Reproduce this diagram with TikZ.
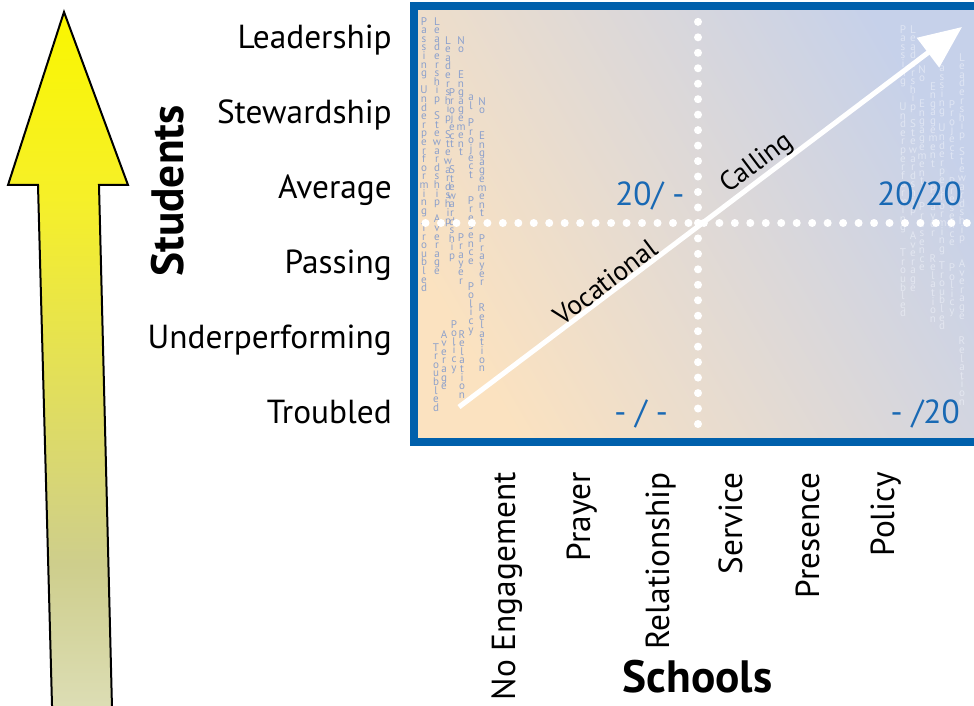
\documentclass[tikz,border=0pt]{standalone}
\usepackage{fontspec}
\setmainfont{PT Sans}
\usetikzlibrary{arrows.meta}
\definecolor{boxblue}{RGB}{0,96,172}
\definecolor{qblue}{RGB}{25,105,180}
\definecolor{peach}{RGB}{251,226,192}
\definecolor{midbg}{RGB}{234,226,218}
\definecolor{bluegrey}{RGB}{198,209,234}
\definecolor{ytop}{RGB}{250,246,0}
\definecolor{yhead}{RGB}{246,240,40}
\definecolor{ylow}{RGB}{206,206,140}
\definecolor{ybot}{RGB}{220,221,180}
\definecolor{tinyL}{RGB}{115,145,205}
\definecolor{tinyR}{RGB}{240,243,250}
\pgfdeclareverticalshading{yarrow}{100bp}{color(0bp)=(ybot); color(26bp)=(ybot); color(36bp)=(ylow); color(62bp)=(yhead); color(75bp)=(ytop); color(100bp)=(ytop)}
\makeatletter
\newcommand\vcol[1]{\vbox{\baselineskip=6.45pt\lineskiplimit=-50pt\lineskip=0pt\relax\vcol@a#1\relax}}
\def\vcol@a#1{\ifx\relax#1\else\hbox to 0pt{\hss#1\hss}\expandafter\vcol@a\fi}
\makeatother
\newcommand\labf{\fontsize{25pt}{30pt}\selectfont}
\newcommand\arrf{\fontsize{20.5pt}{24pt}\selectfont}
\newcommand\bigf{\fontsize{34pt}{40pt}\selectfont\bfseries}
\newcommand\tinyf{\fontsize{8.3pt}{6.45pt}\selectfont}
\tikzset{
  ylab/.style={anchor=base east, inner sep=0pt, font=\labf},
  xlab/.style={anchor=base east, rotate=90, inner sep=0pt, font=\labf},
  qlab/.style={inner sep=0pt, font=\labf, text=qblue},
  tinyl/.style={anchor=north, inner sep=0pt, font=\tinyf, text=tinyL, text opacity=0.8},
  tinyr/.style={anchor=north, inner sep=0pt, font=\tinyf, text=tinyR, text opacity=0.6},
  dotline/.style={white, line width=6pt, line cap=round, dash pattern=on 0pt off 11.6pt},
  arrlab/.style={sloped, above=1pt, inner sep=0pt, font=\arrf},
}
\begin{document}
\begin{tikzpicture}[x=0.75pt,y=-0.75pt]
\useasboundingbox (0,0) rectangle (974,706);
% yellow arrow
\shadedraw[shading=yarrow, draw=black, line width=1.5pt, line join=miter]
  (64,12) -- (128,185) -- (99,185) -- (112.3,720) -- (52.4,720) -- (38,185) -- (8,185) -- cycle;
% box
\begin{scope}
\clip (414,6) rectangle (974,441.5);
\shade[left color=peach, middle color=midbg, right color=bluegrey, shading angle=120] (410,2) rectangle (980,446);
% faint text columns, left
\node[tinyl] (l1) at (424,17) {\vcol{Passing~Underperforming~Troubled}};
\node[tinyl] (l2) at (437,17) {\vcol{Leadership~Stewardship~Average}};
\node[tinyl] (l3) at (448,36) {\vcol{Leadership~Stewardship}};
\node[tinyl] (l4) at (436,343) {\vcol{Troubled}};
\node[tinyl] (l5) at (444,330) {\vcol{Average}};
\node[tinyl] (l6) at (452,88) {\vcol{Project~~Stewardship}};
\node[tinyl] (l7) at (461,36) {\vcol{No~~Engagement}};
\node[tinyl] (l8) at (461,233) {\vcol{Prayer}};
\node[tinyl] (l9) at (462,330) {\vcol{Relation}};
\node[tinyl] (l10) at (454,320) {\vcol{Policy}};
\node[tinyl] (l11) at (471,95) {\vcol{al~Project~~Presence~~Policy}};
\node[tinyl] (l12) at (482,97) {\vcol{No~~Engagement~~Prayer~~Relation}};
% faint text columns, right
\node[tinyr] (r1) at (903,25) {\vcol{Passing~~Underperforming~~Troubled}};
\node[tinyr] (r2) at (913,25) {\vcol{Leadership~Stewardship~~Average}};
\node[tinyr] (r3) at (922,65) {\vcol{No~~Engagement~~Presence}};
\node[tinyr] (r4) at (933,82) {\vcol{Engagement~~Prayer~~Relation}};
\node[tinyr] (r5) at (942,55) {\vcol{Passing~Underperforming~Troubled}};
\node[tinyr] (r6) at (952,100) {\vcol{Project~~Presence~~Policy}};
\node[tinyr] (r7) at (962,53) {\vcol{Leadership~Stewardship~~Average~~Relation}};
\end{scope}
\draw[boxblue, line width=6pt] (414,6) rectangle (1000,441.5);
% dotted axes
\coordinate (hs) at (425.5,223);
\coordinate (he) at (968.5,223);
\coordinate (vs) at (698,17);
\coordinate (ve) at (698,424);
\draw[dotline] (hs) -- (he);
\draw[dotline] (ve) -- (vs);
% white arrow
\coordinate (as) at (459,407);
\coordinate (ae) at (962,27);
\draw[white, line width=3.75pt, -{Triangle[length=32pt,width=27pt]}] (as) -- (ae);
\path (as) -- (ae)
  node[arrlab, pos=0.305] (voc) {Vocational}
  node[arrlab, pos=0.61] (cal) {Calling};
% quadrant labels
\node[qlab, anchor=base west] (q1) at (615,205) {20/ -};
\node[qlab, anchor=base east] (q2) at (962,205) {20/20};
\node[qlab, anchor=base west] (q3) at (614,423) {- / -};
\node[qlab, anchor=base east] (q4) at (960,423) {- /20};
% student levels
\node[ylab] (lead) at (392,48.3) {Leadership};
\node[ylab] (stew) at (392,123.3) {Stewardship};
\node[ylab] (aver) at (392,198.3) {Average};
\node[ylab] (pass) at (392,273.3) {Passing};
\node[ylab] (under) at (392,348.3) {Underperforming};
\node[ylab] (troub) at (392,423.3) {Troubled};
% school levels
\node[xlab] (noeng) at (515,472) {No Engagement};
\node[xlab] (pray) at (590,472) {Prayer};
\node[xlab] (rel) at (669,472) {Relationship};
\node[xlab] (serv) at (742,472) {Service};
\node[xlab] (pres) at (819,472) {Presence};
\node[xlab] (pol) at (894,472) {Policy};
% axis titles
\node[anchor=base, rotate=90, inner sep=0pt, font=\bigf] (stud) at (183,191) {Students};
\node[anchor=base, inner sep=0pt, font=\bigf] (sch) at (697.5,692) {Schools};
\end{tikzpicture}
\end{document}
